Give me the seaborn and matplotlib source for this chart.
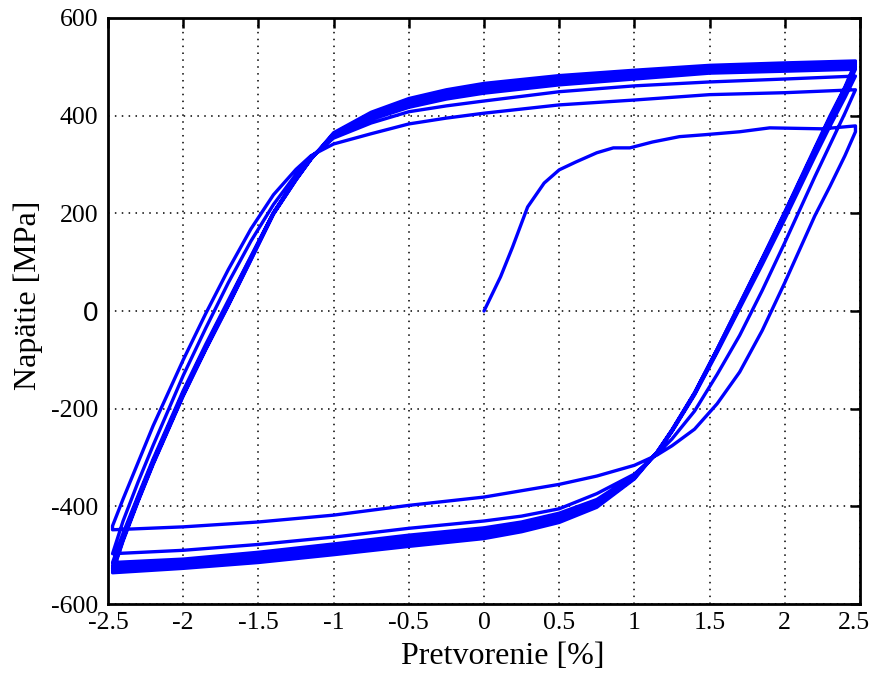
"""Cyclic stress-strain hysteresis (Napatie vs Pretvorenie)."""
import numpy as np
import pandas as pd
import matplotlib
matplotlib.use("Agg")
import matplotlib.pyplot as plt
import matplotlib.transforms as mtransforms
import seaborn as sns

# strain grids shared by the reversal branches [%]
E_UP = [-2.47, -2.40, -2.30, -2.20, -2.00, -1.85, -1.70, -1.55, -1.40, -1.25,
        -1.15, -1.00, -0.75, -0.50, -0.25, 0.00, 0.50, 1.00, 1.50, 2.00, 2.47]
E_DOWN = [2.47, 2.40, 2.30, 2.20, 2.00, 1.85, 1.70, 1.55, 1.40, 1.25,
          1.15, 1.00, 0.75, 0.50, 0.25, 0.00, -0.50, -1.00, -1.50, -2.00, -2.47]

# first loading from zero
virgin_strain = [0.00, 0.11, 0.19, 0.29, 0.40, 0.50, 0.61, 0.75, 0.86, 0.97,
                 1.12, 1.30, 1.47, 1.70, 1.90, 2.25, 2.47]
virgin_stress = [0, 70, 131, 213, 262, 289, 305, 324, 334, 334,
                 346, 357, 361, 367, 375, 373, 379]

# unloading branches (tension -> compression) [MPa]
down_1 = [367, 318, 255, 195, 58, -40, -125, -190, -242, -276,
          -295, -316, -338, -355, -368, -381, -398, -418, -432, -442, -448]
down_2 = [453, 405, 340, 275, 140, 42, -50, -130, -205, -262,
          -293, -334, -374, -405, -420, -430, -445, -463, -478, -490, -497]
down_3 = [481, 437, 378, 316, 188, 95, 5, -85, -172, -247,
          -291, -336, -386, -414, -432, -444, -459, -477, -494, -508, -515]
down_4 = [495, 448, 389, 325, 196, 101, 9, -82, -170, -246,
          -290, -338, -391, -419, -437, -450, -465, -483, -500, -513, -521]
down_5 = [500, 452, 392, 328, 198, 103, 11, -80, -169, -245,
          -290, -340, -395, -424, -443, -455, -471, -488, -506, -518, -527]
down_6 = [505, 456, 396, 331, 201, 106, 13, -79, -168, -244,
          -289, -342, -399, -429, -448, -461, -477, -494, -511, -523, -532]
down_7 = [509, 459, 399, 334, 203, 108, 15, -78, -167, -243,
          -289, -344, -402, -433, -452, -466, -482, -499, -515, -527, -536]

# reloading branches (compression -> tension) [MPa]
up_1 = [-440, -385, -310, -235, -100, -5, 85, 168, 238, 290,
        318, 342, 363, 383, 395, 405, 422, 432, 443, 447, 453]
up_2 = [-497, -430, -350, -275, -132, -35, 58, 143, 218, 280,
        316, 354, 385, 408, 420, 430, 449, 461, 469, 475, 481]
up_3 = [-515, -455, -378, -303, -163, -68, 22, 112, 202, 272,
        313, 356, 392, 417, 434, 446, 463, 475, 487, 491, 495]
up_4 = [-521, -460, -382, -307, -167, -72, 18, 110, 201, 271,
        312, 359, 396, 422, 439, 451, 468, 480, 492, 496, 500]
up_5 = [-527, -465, -385, -310, -170, -75, 15, 108, 200, 270,
        312, 361, 400, 426, 444, 457, 473, 484, 496, 500, 505]
up_6 = [-532, -468, -388, -312, -172, -77, 13, 106, 199, 269,
        311, 363, 404, 431, 449, 462, 478, 489, 500, 505, 509]
up_7 = [-536, -471, -390, -314, -174, -79, 11, 104, 198, 268,
        311, 365, 407, 435, 453, 466, 482, 493, 503, 508, 512]

Y_TICKS = [-600, -400, -200, 0, 200, 400, 600]
X_TICKS = [-2.5, -2, -1.5, -1, -0.5, 0, 0.5, 1, 1.5, 2, 2.5]
X_LABELS = ["-2.5", "-2", "-1.5", "-1", "-0.5", "0", "0.5", "1", "1.5", "2", "2.5"]
Y_LABELS = ["-600", "-400", "-200", "0", "200", "400", "600"]

# build one continuous path in loading order
branches = [(virgin_strain, virgin_stress), (E_DOWN, down_1), (E_UP, up_1),
            (E_DOWN, down_2), (E_UP, up_2), (E_DOWN, down_3), (E_UP, up_3),
            (E_DOWN, down_4), (E_UP, up_4), (E_DOWN, down_5), (E_UP, up_5),
            (E_DOWN, down_6), (E_UP, up_6), (E_DOWN, down_7), (E_UP, up_7)]
strain = np.concatenate([b[0] for b in branches])
stress = np.concatenate([b[1] for b in branches])
df = pd.DataFrame({"strain": strain, "stress": stress})

sns.set_style("white")
plt.rcParams["font.family"] = ["Liberation Serif", "DejaVu Serif"]
plt.rcParams["axes.unicode_minus"] = False

fig = plt.figure(figsize=(8.72, 6.73), dpi=100)
ax = fig.add_axes([0.1239, 0.1025, 0.8623, 0.8708])

sns.lineplot(data=df, x="strain", y="stress", sort=False, estimator=None,
             color="#0000ff", linewidth=2.4, ax=ax)

ax.set_xlim(-2.5, 2.5)
ax.set_ylim(-600, 600)
ax.set_xticks(X_TICKS)
ax.set_xticklabels(X_LABELS)
ax.set_yticks(Y_TICKS)
ax.set_yticklabels(Y_LABELS)
ax.grid(True, color="black", linestyle=(0, (1, 3.5)), linewidth=1.1)
ax.set_axisbelow(True)

ax.tick_params(axis="both", direction="in", length=7, width=1.8, labelsize=18.5,
               top=True, right=True, colors="black", labelcolor="black")
ax.tick_params(axis="x", pad=6)
ax.tick_params(axis="y", pad=7)
for sp in ax.spines.values():
    sp.set_visible(True)
    sp.set_color("black")
    sp.set_linewidth(2.0)

# the zero on the stress axis is set in a sans face
zero_lbl = ax.get_yticklabels()[3]
zero_lbl.set_fontfamily(["Liberation Sans", "DejaVu Sans"])
zero_lbl.set_fontsize(20)

# last strain label sits a little inside the frame
last_lbl = ax.get_xticklabels()[-1]
last_lbl.set_transform(last_lbl.get_transform()
                       + mtransforms.ScaledTranslation(-6 / 100, 0, fig.dpi_scale_trans))

ax.set_xlabel("Pretvorenie [%]", fontsize=23, color="black")
ax.set_ylabel("Napätie [MPa]", fontsize=23, color="black")
ax.xaxis.set_label_coords(0.525, -0.064)
ax.yaxis.set_label_coords(-0.086, 0.526)

fig.savefig("out.png", dpi=100, facecolor="white")
